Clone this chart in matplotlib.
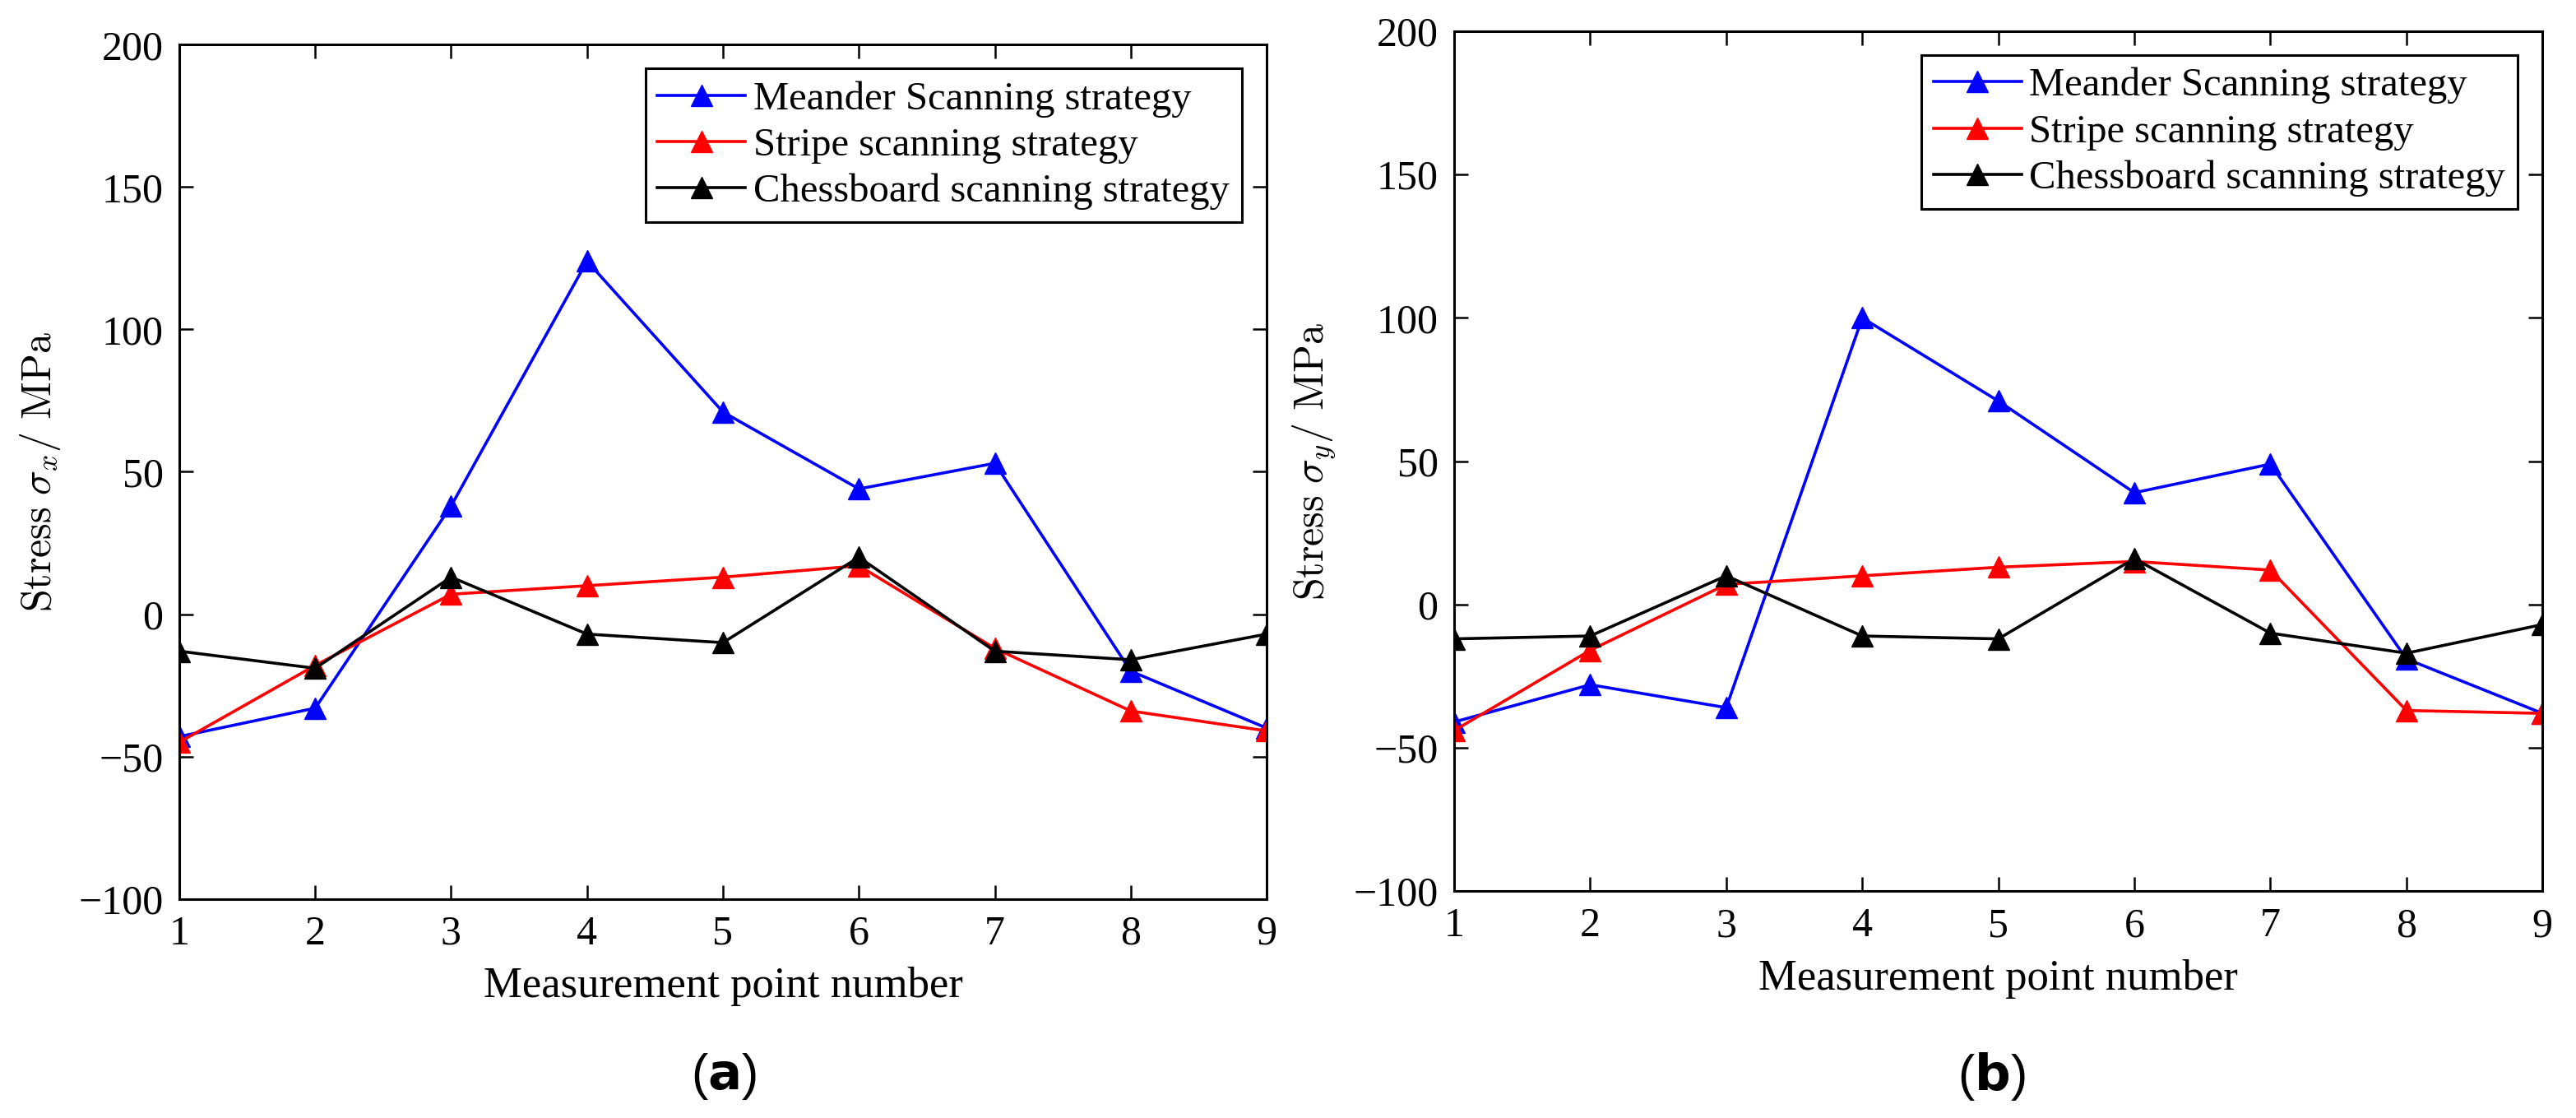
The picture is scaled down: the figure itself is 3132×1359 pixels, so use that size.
import matplotlib
matplotlib.use("Agg")
import matplotlib.pyplot as plt

plt.rcParams['font.family'] = ['Liberation Serif', 'DejaVu Serif']

points = [1, 2, 3, 4, 5, 6, 7, 8, 9]
labels = ['Meander Scanning strategy', 'Stripe scanning strategy', 'Chessboard scanning strategy']
colors = ['#0000ff', '#ff0000', '#000000']

# panel (a): sigma_x
meander_x = [-43, -33, 38, 124, 71, 44, 53, -20, -40]
stripe_x = [-45, -18, 7, 10, 13, 17, -12, -34, -41]
chess_x = [-13, -19, 13, -7, -10, 20, -13, -16, -7]

# panel (b): sigma_y
meander_y = [-41, -28, -36, 100, 71, 39, 49, -19, -38]
stripe_y = [-44, -16, 7, 10, 13, 15, 12, -37, -38]
chess_y = [-12, -11, 10, -11, -12, 16, -10, -17, -7]

yticks = [-100, -50, 0, 50, 100, 150, 200]

fig = plt.figure(figsize=(31.32, 13.59), dpi=100)
ax1 = fig.add_axes([0.0696, 0.196, 0.4221, 0.764])
ax2 = fig.add_axes([0.5645, 0.203, 0.4225, 0.769])


def draw(ax, series, sub):
    for vals, c, lab in zip(series, colors, labels):
        ax.plot(points, vals, color=c, lw=2.6, marker='^', ms=19,
                markerfacecolor=c, markeredgecolor=c, label=lab)
    ax.set_xlim(1, 9)
    ax.set_ylim(-100, 200)
    ax.set_xticks(points)
    ax.set_yticks(yticks)
    ax.tick_params(direction='in', length=12, width=1.8, labelsize=36,
                   top=True, right=True, pad=14)
    for s in ax.spines.values():
        s.set_linewidth(2.2)
    ax.set_xlabel('Measurement point number', fontsize=38, labelpad=12)
    ax.set_ylabel(r'$\mathrm{Stress}\ \sigma_' + sub + r'/\ \mathrm{MPa}$',
                  fontsize=36, math_fontfamily='cm', labelpad=14)
    leg = ax.legend(loc='upper right', bbox_to_anchor=(0.977, 0.972),
                    fontsize=35, fancybox=False, framealpha=1,
                    edgecolor='black', handlelength=2.2, handletextpad=0.2,
                    borderpad=0.3, labelspacing=0.25, borderaxespad=0)
    leg.get_frame().set_linewidth(2.2)


draw(ax1, [meander_x, stripe_x, chess_x], 'x')
draw(ax2, [meander_y, stripe_y, chess_y], 'y')

fig.text(0.281, 0.037, r'($\mathbf{a}$)', fontsize=44, ha='center', va='center',
         family='Liberation Sans', math_fontfamily='dejavusans')
fig.text(0.773, 0.037, r'($\mathbf{b}$)', fontsize=44, ha='center', va='center',
         family='Liberation Sans', math_fontfamily='dejavusans')

fig.savefig('out.png', dpi=100)
